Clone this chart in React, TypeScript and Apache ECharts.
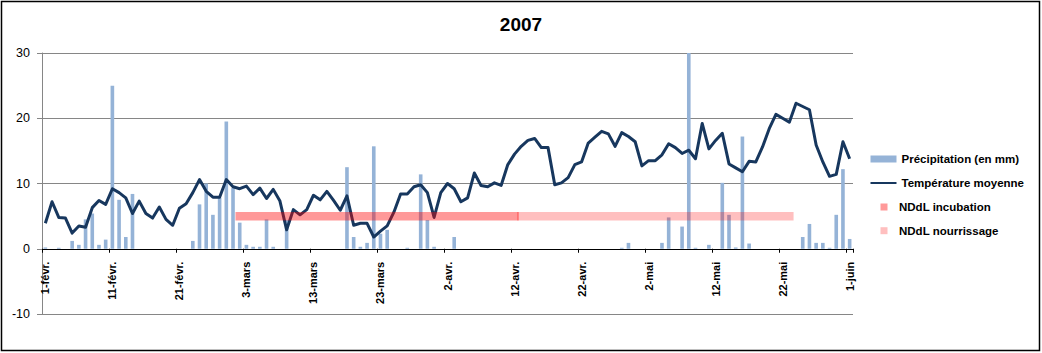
import React, { useEffect, useRef } from 'react';
import * as echarts from 'echarts';

const monthLabels = ['févr.', 'mars', 'avr.', 'mai', 'juin'];
const monthLengths = [28, 31, 30, 31, 1];
const categories: string[] = [];
monthLabels.forEach((m, k) => {
  for (let d = 1; d <= monthLengths[k]; d++) categories.push(`${d}-${m}`);
});

const precipitation = [
  0.2, 0, 0.15, 0, 1.2, 0.6, 4.5, 5.4, 0.6, 1.4,
  25.0, 7.5, 1.8, 8.4, 0, 0, 0, 0, 0, 0,
  0, 0, 1.2, 6.8, 10.0, 5.2, 7.8, 19.5, 9.3, 4.0,
  0.6, 0.3, 0.3, 4.5, 0.3, 0, 4.4, 0, 0, 0,
  0, 0, 0, 0, 0, 12.5, 1.8, 0.3, 0.9, 15.7,
  2.3, 2.9, 0, 0, 0.15, 0, 11.4, 4.4, 0.3, 0,
  0, 1.8, 0, 0, 0, 0, 0, 0, 0, 0,
  0, 0, 0, 0, 0, 0, 0, 0, 0, 0,
  0, 0, 0, 0, 0, 0, 0.15, 0.9, 0, 0,
  0, 0, 0.9, 4.8, 0, 3.4, 30, 0.15, 0, 0.6,
  0, 10.1, 5.2, 0.2, 17.2, 0.8, 0, 0, 0, 0,
  0, 0, 0, 1.8, 3.8, 0.9, 0.9, 0.15, 5.2, 12.2,
  1.5,
];

const temperature = [
  3.9, 7.2, 4.8, 4.7, 2.4, 3.5, 3.3, 6.3, 7.4, 6.8,
  9.2, 8.6, 7.8, 5.4, 7.3, 5.4, 4.7, 6.4, 4.5, 3.6,
  6.2, 6.9, 8.6, 10.6, 8.8, 7.9, 7.9, 10.6, 9.5, 9.2,
  9.6, 8.3, 9.3, 7.7, 9.1, 7.3, 2.9, 6.0, 5.2, 6.0,
  8.2, 7.5, 8.8, 7.4, 5.9, 8.1, 3.6, 3.9, 3.9, 1.8,
  2.7, 3.5, 5.6, 8.4, 8.4, 9.5, 9.8, 8.6, 4.8, 8.6,
  10.0, 9.2, 7.2, 7.8, 11.6, 9.7, 9.5, 10.1, 9.7, 12.9,
  14.5, 15.7, 16.6, 16.9, 15.5, 15.5, 9.8, 10.1, 10.9, 12.9,
  13.3, 16.2, 17.1, 18.0, 17.6, 15.7, 17.8, 17.2, 16.4, 12.7,
  13.5, 13.5, 14.4, 16.1, 15.5, 14.6, 15.1, 13.8, 19.2, 15.3,
  16.6, 17.7, 13.0, 12.4, 11.8, 13.4, 13.3, 15.6, 18.4, 20.6,
  20.0, 19.4, 22.3, 21.8, 21.3, 15.9, 13.3, 11.1, 11.4, 16.4,
  13.8,
];

const incubation = [['2-mars', 5], ['12-avr.', 5]];
const nourrissage = [['13-avr.', 5], ['23-mai', 5]];

const yMin = -10;
const yMax = 30;
const yStep = 10;

const FONT = 'Liberation Sans';

const GRID_TOP = 53;
const GRID_BOTTOM = 39;
const CHART_H = 353;

export default function App() {
  const ref = useRef<HTMLDivElement>(null);
  useEffect(() => {
    if (!ref.current) return;
    const chart = echarts.init(ref.current, null, { renderer: 'svg' });
    const legendText = { fontFamily: FONT, fontSize: 11.5, fontWeight: 'bold', color: '#000', lineHeight: 14 };
    const gridH = CHART_H - GRID_TOP - GRID_BOTTOM;
    const zeroFromBottom = (gridH * (0 - yMin)) / (yMax - yMin);
    chart.setOption({
      animation: false,
      backgroundColor: '#fff',
      title: {
        text: '2007',
        left: 'center',
        top: 10,
        textStyle: { fontFamily: FONT, fontSize: 19, fontWeight: 'bold', color: '#000' },
      },
      graphic: [
        {
          type: 'rect',
          shape: { x: 1.5, y: 1.5, width: 1038, height: 349 },
          style: { fill: 'none', stroke: '#000', lineWidth: 1.5 },
          silent: true,
        },
      ],
      legend: [
        {
          orient: 'vertical',
          left: 869.5,
          top: 152,
          padding: 0,
          itemWidth: 26,
          itemHeight: 7,
          itemGap: 10,
          selectedMode: false,
          data: [
            { name: 'Précipitation (en mm)', icon: 'rect' },
            { name: 'Température moyenne', itemStyle: { opacity: 0 } },
          ],
          textStyle: legendText,
        },
        {
          orient: 'vertical',
          left: 880.5,
          top: 200,
          padding: 0,
          itemWidth: 7,
          itemHeight: 7,
          itemGap: 9.7,
          selectedMode: false,
          data: [{ name: 'NDdL incubation', icon: 'rect' }, { name: 'NDdL nourrissage', icon: 'rect' }],
          textStyle: { ...legendText, padding: [0, 0, 0, 6.5] },
        },
      ],
      grid: {
        left: 42,
        right: 189,
        top: GRID_TOP,
        bottom: GRID_BOTTOM,
        containLabel: false,
        outerBoundsMode: 'none',
      },
      xAxis: {
        type: 'category',
        data: categories,
        boundaryGap: true,
        offset: -zeroFromBottom,
        axisLine: { show: true, onZero: false, lineStyle: { color: '#000', width: 1 } },
        axisTick: { show: true, interval: 9, length: 4, lineStyle: { color: '#000' } },
        axisLabel: {
          interval: 9,
          rotate: 90,
          margin: 13,
          fontFamily: FONT,
          fontSize: 11,
          fontWeight: 'bold',
          color: '#000',
        },
        splitLine: { show: false },
      },
      yAxis: {
        type: 'value',
        min: yMin,
        max: yMax,
        interval: yStep,
        axisLine: { show: true, lineStyle: { color: '#868686' } },
        axisTick: { show: true, length: 5, lineStyle: { color: '#868686' } },
        axisLabel: { margin: 12, fontFamily: FONT, fontSize: 12.5, color: '#000' },
        splitLine: { show: true, lineStyle: { color: '#868686', width: 1 } },
      },
      series: [
        {
          name: 'Précipitation (en mm)',
          type: 'bar',
          data: precipitation,
          barWidth: '54%',
          itemStyle: { color: '#95B3D7' },
        },
        {
          name: 'Température moyenne',
          type: 'line',
          data: temperature,
          symbol: 'none',
          showSymbol: false,
          lineStyle: { color: '#17375E', width: 3, join: 'round' },
          itemStyle: { color: '#17375E' },
        },
        {
          name: 'NDdL incubation',
          type: 'line',
          data: incubation,
          symbol: 'none',
          showSymbol: false,
          lineStyle: { color: 'rgba(255,0,0,0.4)', width: 8.5, cap: 'square' },
          itemStyle: { color: 'rgba(255,0,0,0.4)' },
        },
        {
          name: 'NDdL nourrissage',
          type: 'line',
          data: nourrissage,
          symbol: 'none',
          showSymbol: false,
          lineStyle: { color: 'rgba(255,0,0,0.25)', width: 8.5, cap: 'square' },
          itemStyle: { color: 'rgba(255,0,0,0.25)' },
        },
      ],
    });
    return () => chart.dispose();
  }, []);
  return (
    <div
      ref={ref}
      style={{ position: 'fixed', left: 0, top: 0, width: 1042, height: 353, background: '#fff' }}
    />
  );
}
